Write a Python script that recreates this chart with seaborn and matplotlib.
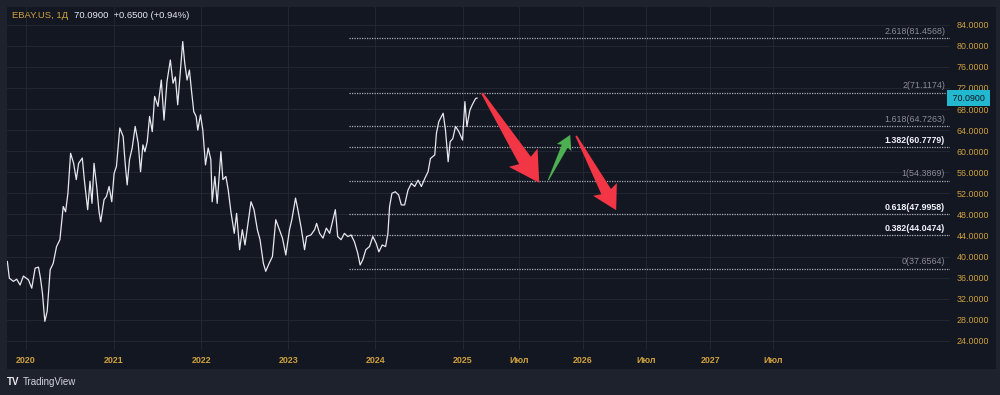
import numpy as np
import pandas as pd
import matplotlib
matplotlib.use("Agg")
import matplotlib.pyplot as plt
from matplotlib.patches import Rectangle, Polygon
from matplotlib.transforms import IdentityTransform, blended_transform_factory
import seaborn as sns

# EBAY.US daily close (roughly every 2 weeks)
dates = [
    '2019-10-15', '2019-10-23', '2019-11-08', '2019-11-22', '2019-12-06', '2019-12-20',
    '2020-01-10', '2020-01-24', '2020-02-07', '2020-02-21', '2020-03-02', '2020-03-10',
    '2020-03-19', '2020-03-30', '2020-04-10', '2020-04-23', '2020-05-07', '2020-05-21',
    '2020-06-04', '2020-06-15', '2020-06-24', '2020-07-06', '2020-07-17', '2020-07-29',
    '2020-08-07', '2020-08-24', '2020-09-01', '2020-09-15', '2020-09-24', '2020-10-02',
    '2020-10-12', '2020-10-22', '2020-11-02', '2020-11-09', '2020-11-23', '2020-12-02',
    '2020-12-14', '2020-12-24',
    '2021-01-04', '2021-01-13', '2021-01-27', '2021-02-10', '2021-02-18', '2021-02-26',
    '2021-03-09', '2021-03-19', '2021-04-01', '2021-04-14', '2021-04-23', '2021-05-04',
    '2021-05-12', '2021-05-21', '2021-06-01', '2021-06-11', '2021-06-22', '2021-07-06',
    '2021-07-20', '2021-07-30', '2021-08-12', '2021-08-26', '2021-09-07', '2021-09-16',
    '2021-09-27', '2021-10-07', '2021-10-18', '2021-10-26', '2021-11-04', '2021-11-15',
    '2021-11-23', '2021-12-02', '2021-12-13', '2021-12-20', '2021-12-30',
    '2022-01-10', '2022-01-20', '2022-02-01', '2022-02-11', '2022-02-17', '2022-03-01',
    '2022-03-10', '2022-03-25', '2022-04-04', '2022-04-15', '2022-04-26', '2022-05-06',
    '2022-05-20', '2022-05-31', '2022-06-13', '2022-06-23', '2022-07-05', '2022-07-18',
    '2022-07-29', '2022-08-11', '2022-08-25', '2022-09-06', '2022-09-20', '2022-09-29',
    '2022-10-13', '2022-10-27', '2022-11-10', '2022-11-25', '2022-12-08', '2022-12-22',
    '2023-01-06', '2023-01-17', '2023-02-01', '2023-02-10', '2023-02-24', '2023-03-10',
    '2023-03-20', '2023-04-06', '2023-04-21', '2023-05-01', '2023-05-12', '2023-05-26',
    '2023-06-09', '2023-06-23', '2023-07-07', '2023-07-18', '2023-07-27', '2023-08-10',
    '2023-08-24', '2023-09-07', '2023-09-21', '2023-10-05', '2023-10-19', '2023-10-30',
    '2023-11-09', '2023-11-22', '2023-12-07', '2023-12-21',
    '2024-01-04', '2024-01-16', '2024-01-30', '2024-02-13', '2024-02-22', '2024-02-29',
    '2024-03-11', '2024-03-25', '2024-04-08', '2024-04-18', '2024-05-02', '2024-05-16',
    '2024-05-30', '2024-06-13', '2024-06-27', '2024-07-11', '2024-07-25', '2024-08-08',
    '2024-08-19', '2024-09-05', '2024-09-12', '2024-09-23', '2024-10-10', '2024-10-21',
    '2024-10-31', '2024-11-08', '2024-11-20', '2024-12-02', '2024-12-16', '2024-12-31',
    '2025-01-09', '2025-01-17', '2025-01-30', '2025-02-10', '2025-02-24', '2025-03-03',
]
prices = [
    39.1, 35.9, 35.3, 35.7, 34.6, 36.3,
    35.6, 34.0, 37.8, 38.0, 35.9, 33.0, 27.7, 29.6, 37.5, 38.7, 41.9, 43.2,
    49.5, 48.5, 52.0, 59.6, 57.7, 54.6, 57.7, 58.7, 54.6, 48.9, 54.3, 50.1,
    57.7, 53.3, 48.5, 46.6, 50.8, 51.4, 53.3, 50.4,
    55.8, 57.1, 64.4, 62.8, 57.7, 53.6, 58.4, 60.6, 64.7, 61.5, 56.1, 61.2,
    59.9, 61.8, 66.6, 63.7, 70.4, 68.5, 73.5, 65.9, 73.2, 77.3, 72.9, 74.1,
    68.8, 75.1, 80.8, 76.7, 73.5, 75.4, 71.6, 67.5, 66.6, 64.0, 66.9,
    64.0, 57.4, 60.6, 58.4, 50.4, 55.2, 50.1, 59.9, 54.6, 55.2, 52.6, 48.5,
    44.4, 48.2, 41.3, 45.1, 42.2, 46.3, 50.4, 48.9, 45.1, 43.2, 38.7, 37.2,
    38.7, 40.0, 47.0, 45.1, 43.5, 40.3,
    45.1, 47.0, 51.1, 48.9, 45.4, 41.3, 43.8, 44.1, 45.1, 46.3, 44.4, 43.5,
    45.4, 44.4, 47.0, 48.9, 43.8, 43.2, 44.4, 43.8, 44.1, 42.8, 40.6, 38.4,
    39.4, 41.3, 41.9, 43.8,
    42.5, 40.9, 42.2, 41.9, 44.4, 49.5, 52.0, 52.3, 51.7, 49.8, 49.8, 52.6,
    53.9, 53.3, 54.5, 53.3, 54.8, 56.1, 58.6, 59.3, 63.4, 65.6, 67.2, 64.0,
    58.0, 61.8, 62.4, 64.7, 63.7, 62.1,
    69.4, 64.7, 67.8, 68.8, 70.0, 70.09,
]
last_price = 70.09

# Fibonacci extension drawn on the chart
fib_ratios = ['2.618', '2', '1.618', '1.382', '1', '0.618', '0.382', '0']
fib_levels = [81.4568, 71.1174, 64.7263, 60.7779, 54.3869, 47.9958, 44.0474, 37.6564]
fib_bright = ['1.382', '0.618', '0.382']
fib_start = '2023-09-14'

# hand-drawn forecast arrows
arrow_from_dates = ['2025-03-17', '2025-09-23', '2025-12-12']
arrow_from_prices = [71.0, 54.5, 62.9]
arrow_to_dates = ['2025-08-28', '2025-11-25', '2026-04-06']
arrow_to_prices = [54.0, 63.1, 48.8]
arrow_colors = ['#f23645', '#4caf50', '#f23645']

time_ticks = ['2020-01-01', '2021-01-01', '2022-01-01', '2023-01-01', '2024-01-01',
              '2025-01-01', '2025-07-01', '2026-01-01', '2026-07-01', '2027-01-01',
              '2027-07-01']
time_labels = ['2020', '2021', '2022', '2023', '2024', '2025', 'Июл', '2026', 'Июл',
               '2027', 'Июл']
price_ticks = list(range(24, 85, 4))

BG = '#1e222d'
PANEL = '#131722'
GRID = '#222633'
ORANGE = '#cfa13c'

# TradingView time scale: trading days for history, calendar days in the future
origin = np.datetime64('2019-10-01')
last_day = np.datetime64(dates[-1])
FUTURE_STEP = 1.04


def to_x(d):
    d = np.datetime64(d, 'D')
    if d <= last_day:
        return float(np.busday_count(origin, d))
    return float(np.busday_count(origin, last_day)) + (d - last_day).astype(int) * FUTURE_STEP


sns.set_theme(style='dark')
plt.rcParams['font.family'] = ['Liberation Sans', 'DejaVu Sans']

df = pd.DataFrame({'x': [to_x(d) for d in dates], 'price': prices})

fig = plt.figure(figsize=(10, 3.95), dpi=100, facecolor=BG)
W, H = 1000, 395
fig.patches.append(Rectangle((7 / W, 1 - 369 / H), 989 / W, 362 / H,
                             transform=fig.transFigure, facecolor=PANEL,
                             edgecolor='none', zorder=-5))
ax = fig.add_axes([7 / W, 1 - 350 / H, 943 / W, 343 / H])
ax.set_facecolor(PANEL)

sns.lineplot(data=df, x='x', y='price', ax=ax, color='#e6e8ee', linewidth=0.9, zorder=3)

ax.set_xlim(to_x('2019-10-14'), to_x('2028-11-20'))
ax.set_ylim(22.27, 87.36)

ax.set_xticks([to_x(t) for t in time_ticks])
ax.set_xticklabels(time_labels)
ax.set_yticks(price_ticks)
ax.set_yticklabels([f'{v:.4f}' for v in price_ticks])
ax.yaxis.tick_right()
ax.tick_params(axis='y', length=0, pad=5, labelcolor=ORANGE, labelsize=6.4)
ax.tick_params(axis='x', length=0, pad=4.5, labelcolor=ORANGE, labelsize=6.4)
for lab in ax.get_xticklabels():
    lab.set_fontweight('bold')
ax.set_xlabel('')
ax.set_ylabel('')
ax.grid(True, color=GRID, linewidth=0.8)
for s in ax.spines.values():
    s.set_visible(False)

# fib levels
trans = blended_transform_factory(ax.transAxes, ax.transData)
x0 = to_x(fib_start)
for r, lv in zip(fib_ratios, fib_levels):
    bright = r in fib_bright
    ax.plot([x0, ax.get_xlim()[1]], [lv, lv], color='#a9acb5', linewidth=0.9,
            linestyle=(0, (1, 1)), zorder=2)
    ax.annotate(f'{r}({lv:.4f})', xy=(1, lv), xycoords=trans, xytext=(-3.5, 5),
                textcoords='offset points', ha='right', va='center', fontsize=6.4,
                color='#f0f3fa' if bright else '#8a8d96',
                fontweight='bold' if bright else 'normal')

# last price tag
ax.text(1.0, last_price, ' 70.0900 ', transform=trans, ha='left', va='center',
        fontsize=6.4, color='#131722',
        bbox=dict(boxstyle='square,pad=0.35', facecolor='#22b8cf', edgecolor='none'))

# arrows, shaped in pixel space
for fd, fp, td, tp, c in zip(arrow_from_dates, arrow_from_prices, arrow_to_dates,
                             arrow_to_prices, arrow_colors):
    a = ax.transData.transform((to_x(fd), fp))
    b = ax.transData.transform((to_x(td), tp))
    v = b - a
    L = np.hypot(*v)
    u = v / L
    n = np.array([-u[1], u[0]])
    base = b - u * 0.25 * L
    pts = [a + n * 0.01 * L, base + n * 0.065 * L, base - u * 0.03 * L + n * 0.16 * L, b,
           base - u * 0.03 * L - n * 0.16 * L, base - n * 0.065 * L, a - n * 0.01 * L]
    ax.add_patch(Polygon(pts, closed=True, transform=IdentityTransform(), facecolor=c,
                         edgecolor='none', zorder=5, clip_on=False))

# header and logo
head = fig.text(12 / W, 1 - 16 / H, 'EBAY.US, 1Д', color=ORANGE, fontsize=6.8,
                va='center')
ax.annotate('70.0900  +0.6500 (+0.94%)', xy=(1, 0.5), xycoords=head,
            xytext=(4, 0), textcoords='offset points', color='#e8eaf0',
            fontsize=6.8, va='center', ha='left', annotation_clip=False)
fig.text(7 / W, 1 - 382 / H, 'TV', color='#e8eaf0', fontsize=7, fontweight='bold',
         va='center')
fig.text(23 / W, 1 - 382 / H, 'TradingView', color='#d1d4dc', fontsize=7, va='center')

fig.savefig('out.png', dpi=100, facecolor=BG)
